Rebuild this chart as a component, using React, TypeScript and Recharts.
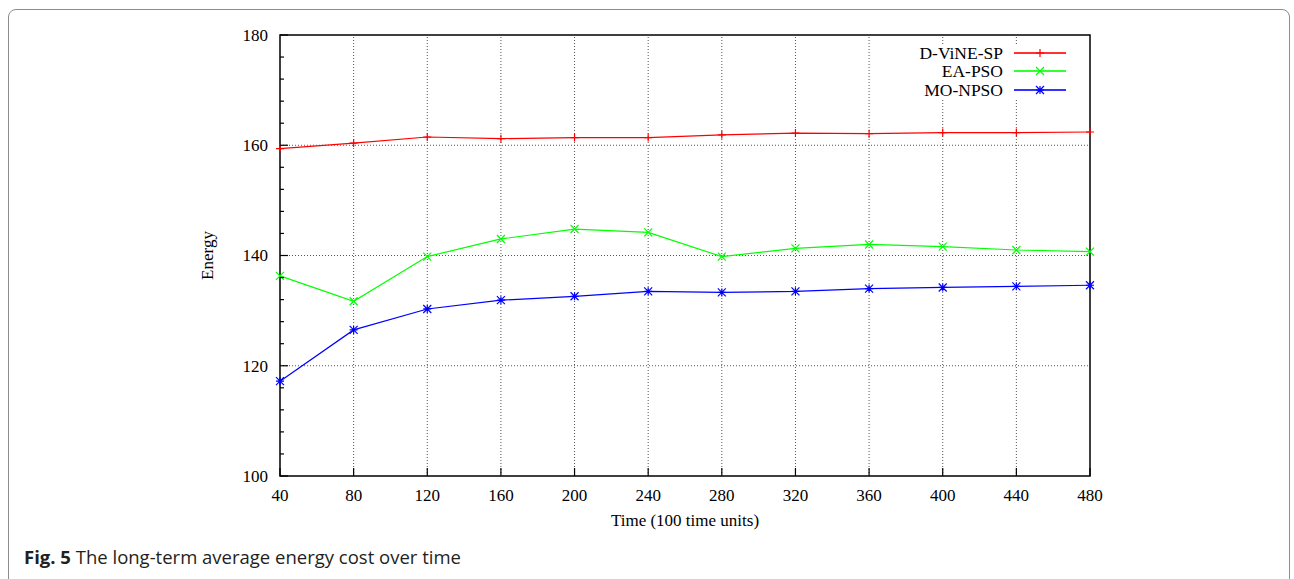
import { LineChart, Line, XAxis, YAxis, ReferenceLine, ReferenceArea, Legend } from 'recharts'

const times = [40, 80, 120, 160, 200, 240, 280, 320, 360, 400, 440, 480]
const dvineSp = [159.4, 160.4, 161.5, 161.2, 161.4, 161.4, 161.9, 162.2, 162.1, 162.3, 162.3, 162.4]
const eaPso = [136.3, 131.7, 139.8, 143.0, 144.8, 144.2, 139.8, 141.3, 142.0, 141.6, 141.0, 140.7]
const moNpso = [117.2, 126.5, 130.3, 131.9, 132.6, 133.5, 133.3, 133.5, 134.0, 134.2, 134.4, 134.6]

const seriesNames = ['D-ViNE-SP', 'EA-PSO', 'MO-NPSO']
const seriesKeys = ['dvine', 'ea', 'mo']
const seriesColors = ['#ff0000', '#00ff00', '#0000ff']
const seriesMarks = ['plus', 'cross', 'star']

const yTicks = [100, 104, 108, 112, 116, 120, 124, 128, 132, 136, 140, 144, 148, 152, 156, 160, 164, 168, 172, 176, 180]
const yGrid = [120, 140, 160]
const xGrid = [80, 120, 160, 200, 240, 280, 320, 360, 400, 440]

const data = times.map((t, i) => ({ t, dvine: dvineSp[i], ea: eaPso[i], mo: moNpso[i] }))

const SERIF = '"Liberation Serif", "DejaVu Serif", serif'

function markPath(kind: string, cx: number, cy: number, r: number) {
  const plus = `M${cx - r},${cy}H${cx + r}M${cx},${cy - r}V${cy + r}`
  const cross = `M${cx - r},${cy - r}L${cx + r},${cy + r}M${cx - r},${cy + r}L${cx + r},${cy - r}`
  if (kind === 'plus') return plus
  if (kind === 'cross') return cross
  return plus + cross
}

const makeDot = (kind: string, color: string) => (p: any) => (
  <path key={`dot-${kind}-${p.index}`} d={markPath(kind, p.cx, p.cy, 4)} stroke={color} strokeWidth={1.2} fill="none" />
)

function YTick(props: any) {
  const { x, y, payload } = props
  const major = payload.value % 20 === 0
  return (
    <g>
      <line x1={x} x2={x + (major ? 8 : 4)} y1={y} y2={y} stroke="#000" strokeWidth={1.2} />
      {major && (
        <text x={x - 12} y={y} dy="0.35em" textAnchor="end" fontSize={17} fill="#000" fontFamily={SERIF}>
          {payload.value}
        </text>
      )}
    </g>
  )
}

function XTick(props: any) {
  const { x, y, payload } = props
  return (
    <g>
      <line x1={x} x2={x} y1={y} y2={y - 8} stroke="#000" strokeWidth={1.2} />
      <text x={x} y={y + 25} textAnchor="middle" fontSize={17} fill="#000" fontFamily={SERIF}>
        {payload.value}
      </text>
    </g>
  )
}

const renderLegend = () => (
  <div style={{ background: '#fff', fontFamily: SERIF, fontSize: 17.5, color: '#000' }}>
    {seriesNames.map((name, i) => (
      <div key={name} style={{ display: 'flex', alignItems: 'center', height: 18.3 }}>
        <span style={{ width: 98, textAlign: 'right', lineHeight: '18px' }}>{name}</span>
        <svg width={63} height={18} style={{ display: 'block' }}>
          <line x1={11} x2={63} y1={9} y2={9} stroke={seriesColors[i]} strokeWidth={1.8} strokeOpacity={0.8} />
          <path d={markPath(seriesMarks[i], 37, 9, 4)} stroke={seriesColors[i]} strokeWidth={1.2} fill="none" />
        </svg>
      </div>
    ))}
  </div>
)

export default function App() {
  return (
    <div style={{ position: 'fixed', left: 0, top: 0, width: 1294, height: 579, overflow: 'hidden', background: '#fff' }}>
      <div
        style={{
          position: 'absolute', left: 8, top: 9, width: 1282, height: 620,
          border: '1.5px solid #8c8c8c', borderRadius: 8, boxSizing: 'border-box',
        }}
      />
      <div style={{ position: 'absolute', left: 0, top: 0 }}>
        <LineChart width={1294} height={579} data={data} margin={{ top: 35, right: 204, left: 134, bottom: 43 }} style={{ fontFamily: SERIF }}>
          {yGrid.map(v => (
            <ReferenceLine key={`gy${v}`} y={v} stroke="#555" strokeDasharray="1 2" strokeWidth={1} />
          ))}
          {xGrid.map(v => (
            <ReferenceLine key={`gx${v}`} x={v} stroke="#555" strokeDasharray="1 2" strokeWidth={1} />
          ))}
          <XAxis
            dataKey="t" type="number" domain={[40, 480]} ticks={times} interval={0}
            height={60} axisLine={false} tickLine={false} tickSize={0} tickMargin={0}
            tick={<XTick />}
            label={{ value: 'Time (100 time units)', position: 'insideBottom', offset: 10, fill: '#000', fontSize: 17, fontFamily: SERIF }}
          />
          <YAxis
            type="number" domain={[100, 180]} ticks={yTicks} interval={0}
            width={146} axisLine={false} tickLine={false} tickSize={0} tickMargin={0}
            tick={<YTick />}
            label={{ value: 'Energy', angle: -90, position: 'center', fill: '#000', fontSize: 17, fontFamily: SERIF }}
          />
          <ReferenceArea x1={40} x2={480} y1={100} y2={180} fill="none" stroke="#000" strokeWidth={1.5} />
          {seriesKeys.map((k, i) => (
            <Line
              key={k} dataKey={k} name={seriesNames[i]} type="linear" stroke={seriesColors[i]} strokeWidth={1.2}
              dot={makeDot(seriesMarks[i], seriesColors[i])} activeDot={false} isAnimationActive={false}
            />
          ))}
          <Legend
            layout="vertical" align="center" verticalAlign="middle" content={renderLegend}
            wrapperStyle={{ top: 44, left: 905, width: 165 }}
          />
        </LineChart>
      </div>
      <div
        style={{
          position: 'absolute', left: 24, top: 546, fontFamily: '"Open Sans", "Noto Sans", sans-serif',
          fontSize: 18.5, lineHeight: '22px', color: '#231f20', whiteSpace: 'nowrap',
        }}
      >
        <b>Fig. 5</b> The long-term average energy cost over time
      </div>
    </div>
  )
}
